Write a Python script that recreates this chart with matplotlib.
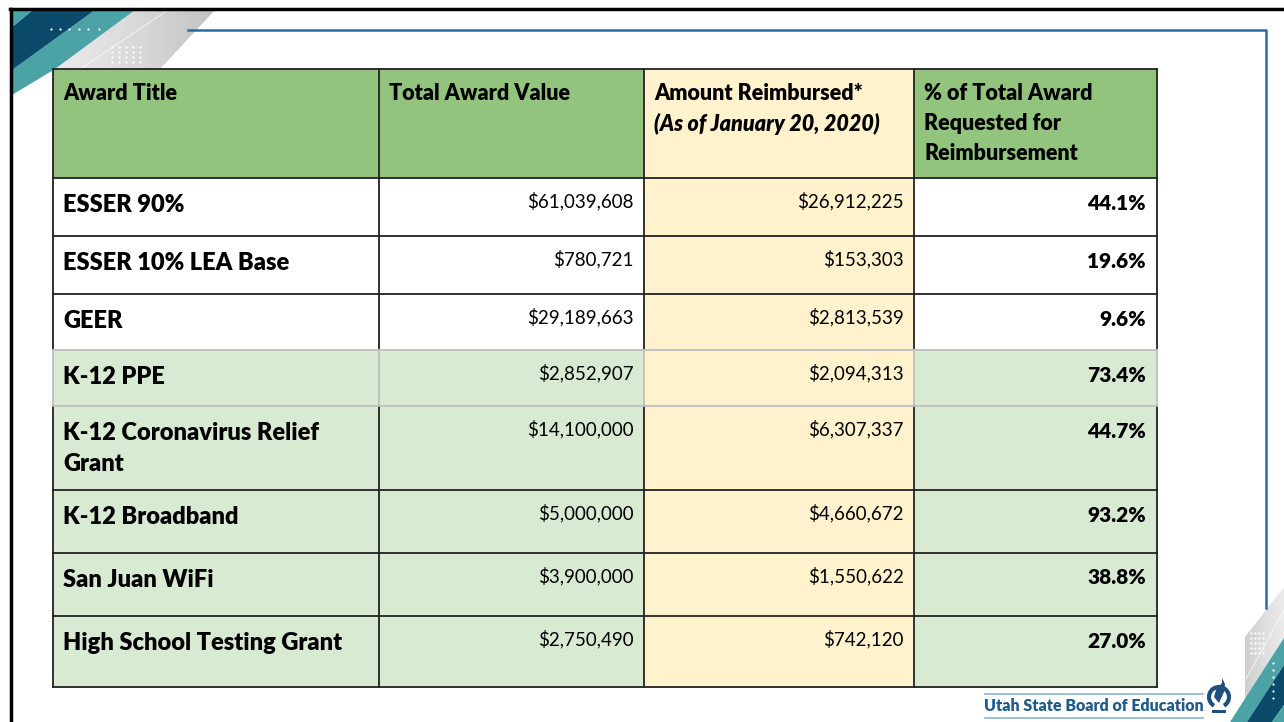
import matplotlib
matplotlib.use("Agg")
import matplotlib.pyplot as plt
from matplotlib.patches import Polygon, Rectangle, Arc
import numpy as np

plt.rcParams['font.family'] = ['Lato', 'DejaVu Sans']

# данные таблицы
headers = ["Award Title", "Total Award Value",
           "Amount Reimbursed*\n(As of January 20, 2020)",
           "% of Total Award\nRequested for\nReimbursement"]
award_titles = ["ESSER 90%", "ESSER 10% LEA Base", "GEER", "K-12 PPE",
                "K-12 Coronavirus Relief\nGrant", "K-12 Broadband",
                "San Juan WiFi", "High School Testing Grant"]
total_award = [61039608, 780721, 29189663, 2852907,
               14100000, 5000000, 3900000, 2750490]
reimbursed = [26912225, 153303, 2813539, 2094313,
              6307337, 4660672, 1550622, 742120]
pct_requested = ["44.1%", "19.6%", "9.6%", "73.4%",
                 "44.7%", "93.2%", "38.8%", "27.0%"]

# геометрия таблицы (в пикселях слайда)
col_x = [53, 379, 644, 914, 1157]
row_y = [69, 178, 236, 294, 350, 406, 490, 553, 616, 687]

GREEN_HEAD = "#93C47D"
GREEN_LIGHT = "#D9EAD3"
YELLOW = "#FFF2CC"
NAVY = "#0B4A6B"
TEAL = "#4BA3A6"
BOLD = "heavy"

fig = plt.figure(figsize=(12.84, 7.22), dpi=100)
ax = fig.add_axes([0, 0, 1, 1])
ax.set_xlim(0, 1284)
ax.set_ylim(722, 0)
ax.axis("off")


def gray_band(pts, x0, x1, y0, y1, flip=False):
    poly = Polygon(pts, closed=True, facecolor="none", edgecolor="none")
    ax.add_patch(poly)
    grad = np.linspace(0, 1, 64)[None, :]
    if flip:
        grad = grad[:, ::-1]
    im = ax.imshow(grad, cmap="Greys", vmin=-0.75, vmax=4.25,
                   extent=(x0, x1, y1, y0), aspect="auto", zorder=1)
    im.set_clip_path(poly)


# декор в левом верхнем углу
gray_band([(135, 10), (215, 10), (160, 69), (55, 69)], 55, 215, 10, 69)
ax.add_patch(Polygon([(95, 10), (135, 10), (55, 69), (12, 95), (12, 70)],
                     facecolor=TEAL, edgecolor="none", zorder=2))
ax.add_patch(Polygon([(33, 10), (95, 10), (12, 70), (12, 27)],
                     facecolor=NAVY, edgecolor="none", zorder=2))
ax.add_patch(Polygon([(12, 10), (33, 10), (12, 27)],
                     facecolor=TEAL, edgecolor="none", zorder=2))
ax.plot([168, 80], [10, 69], color="white", lw=0.6, alpha=0.8, zorder=2)
for dx in [51, 60, 69, 79, 88, 99]:
    ax.plot(dx, 29, "o", ms=1.6, color="white", mec="none", zorder=3)
for gx in [112, 119, 126, 133, 140]:
    for gy in [47, 52, 57, 62]:
        ax.plot(gx, gy, "s", ms=1.8, color="white", mec="none", zorder=3)

# декор в правом нижнем углу
gray_band([(1245, 637), (1284, 587), (1284, 638), (1232, 722), (1245, 722)],
          1232, 1284, 587, 722, flip=True)
ax.add_patch(Polygon([(1284, 638), (1284, 665), (1247, 722), (1230, 722)],
                     facecolor=TEAL, edgecolor="none", zorder=2))
ax.add_patch(Polygon([(1284, 665), (1284, 705), (1272, 722), (1247, 722)],
                     facecolor=NAVY, edgecolor="none", zorder=2))
ax.add_patch(Polygon([(1284, 705), (1284, 722), (1272, 722)],
                     facecolor=TEAL, edgecolor="none", zorder=2))
ax.plot([1284, 1240], [610, 690], color="white", lw=0.6, alpha=0.8, zorder=2)
for gx in [1251, 1255, 1259, 1263]:
    for gy in [633, 638, 643, 648, 653]:
        ax.plot(gx, gy, "s", ms=1.6, color="white", mec="none", zorder=3)
for gy in [663, 670, 677, 684, 691, 698]:
    ax.plot(1273, gy, "o", ms=1.6, color="white", mec="none", zorder=3)

# рамки слайда
ax.plot([10, 1284], [9, 9], color="black", lw=2.5, zorder=5)
ax.plot([11, 11], [9, 722], color="black", lw=2.5, zorder=5)
ax.plot([188, 1266, 1266], [30, 30, 608], color="#2F6B9A", lw=1.8, zorder=2)

# ячейки таблицы
n_rows = len(row_y) - 1
for r in range(n_rows):
    for c in range(4):
        if r == 0:
            fc = YELLOW if c == 2 else GREEN_HEAD
        elif c == 2:
            fc = YELLOW
        elif r >= 4:
            fc = GREEN_LIGHT
        else:
            fc = "white"
        ax.add_patch(Rectangle((col_x[c], row_y[r]), col_x[c + 1] - col_x[c],
                               row_y[r + 1] - row_y[r], facecolor=fc,
                               edgecolor="none", zorder=3))

# линии сетки (строка K-12 PPE со светлыми границами)
for r in range(n_rows):
    y0, y1 = row_y[r], row_y[r + 1]
    lc = "#BFBFBF" if r == 4 else "#222222"
    for c, x in enumerate(col_x):
        ax.plot([x, x], [y0, y1], color=lc, lw=1.3, zorder=4)
for i, y in enumerate(row_y):
    lc = "#222222"
    if i in (4, 5):
        lc = "#BFBFBF"
    ax.plot([col_x[0], col_x[-1]], [y, y], color=lc, lw=1.3, zorder=4)

# заголовки
for c, h in enumerate(headers):
    for k, line in enumerate(h.split("\n")):
        style = "italic" if line.startswith("(") else "normal"
        ax.text(col_x[c] + 10, 94 + k * 29.5, line, fontsize=15.5,
                fontweight=BOLD, style=style, va="center", ha="left",
                color="black", zorder=6)

# строки
for r in range(len(award_titles)):
    top = row_y[r + 1]
    for k, line in enumerate(award_titles[r].split("\n")):
        ax.text(col_x[0] + 10, top + 27 + k * 31, line, fontsize=17,
                fontweight=BOLD, va="center", ha="left", zorder=6)
    ax.text(col_x[2] - 10, top + 23, "${:,}".format(total_award[r]),
            fontsize=13.5, va="center", ha="right", zorder=6)
    ax.text(col_x[3] - 10, top + 23, "${:,}".format(reimbursed[r]),
            fontsize=13.5, va="center", ha="right", zorder=6)
    ax.text(col_x[4] - 11, top + 25, pct_requested[r], fontsize=15,
            fontweight=BOLD, va="center", ha="right", zorder=6)

# логотип
ax.plot([985, 1203], [694, 694], color="#8FB3D1", lw=1.2, zorder=5)
ax.plot([985, 1203], [718, 718], color="#8FB3D1", lw=1.2, zorder=5)
ax.text(1094, 706, "Utah State Board of Education", fontsize=11.5,
        fontweight=BOLD, color="#1F5C8C", ha="center", va="center", zorder=6)
ax.add_patch(Arc((1219, 697), 20, 20, theta1=180, theta2=360,
                 color="#1F4F7A", lw=3, zorder=6))
ax.add_patch(Arc((1219, 697), 20, 20, theta1=0, theta2=60,
                 color="#1F4F7A", lw=3, zorder=6))
ax.add_patch(Arc((1219, 697), 20, 20, theta1=120, theta2=180,
                 color="#1F4F7A", lw=3, zorder=6))
ax.add_patch(Polygon([(1219, 703), (1214, 697), (1216, 690), (1222, 683),
                      (1222, 678), (1225, 684), (1224, 692), (1219, 703)],
                     facecolor="#1F4F7A", edgecolor="none", zorder=6))
ax.add_patch(Rectangle((1212, 710), 14, 3, facecolor="#1F4F7A",
                       edgecolor="none", zorder=6))

fig.savefig("out.png", dpi=100)
